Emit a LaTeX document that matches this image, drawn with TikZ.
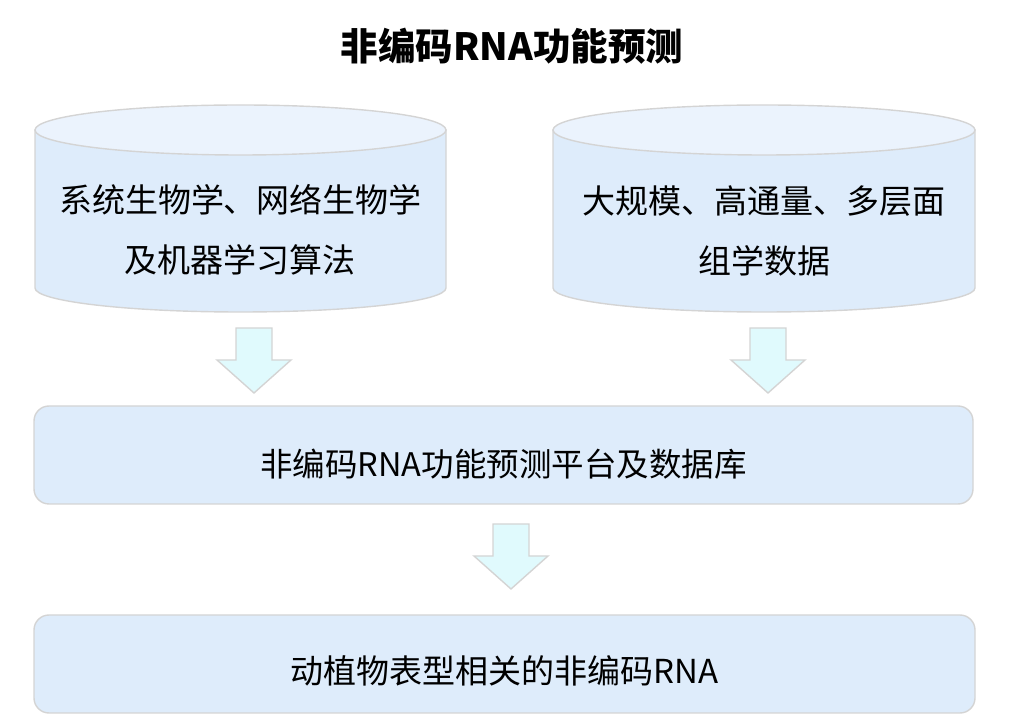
\documentclass[tikz,border=0pt]{standalone}
\usepackage{fontspec}
\setmainfont{Noto Sans CJK SC}
\usetikzlibrary{positioning}
\definecolor{bodyblue}{RGB}{222,236,251}
\definecolor{topblue}{RGB}{235,243,253}
\definecolor{edgegray}{RGB}{212,212,212}
\definecolor{arrowcyan}{RGB}{224,250,253}
\tikzset{
  basic/.style  = {align=center, text=black, inner sep=0pt},
  title/.style  = {basic, font=\fontsize{37.5}{40}\selectfont\bfseries},
  cyltext/.style = {basic, font=\fontsize{33}{60}\selectfont},
  panel/.style  = {draw=edgegray, line width=1.4pt, fill=bodyblue,
                   rounded corners=15pt, minimum width=939pt, minimum height=98pt},
  cylbody/.style = {draw=edgegray, line width=1.4pt, fill=bodyblue},
  cyltop/.style  = {draw=edgegray, line width=1.4pt, fill=topblue},
  bigarrow/.style = {draw=edgegray, line width=1.4pt, fill=arrowcyan, line join=miter}
}

\begin{document}
\begin{tikzpicture}[x=1pt, y=1pt]
\useasboundingbox (0,0) rectangle (1023,715);

% title
\node[title] (head) at (512,669) {非编码RNA功能预测};

% the two data stores
\foreach \cx/\rx in {240.5/205.5, 764/211} {
  \draw[cylbody] (\cx-\rx,585) -- (\cx-\rx,427)
    arc[start angle=180, end angle=360, x radius=\rx, y radius=24]
    -- (\cx+\rx,585) -- cycle;
  \draw[cyltop] (\cx,585) ellipse[x radius=\rx, y radius=25];
}
\node[cyltext] (algo) at (240.5,485) {系统生物学、网络生物学\\及机器学习算法};
\node[cyltext] (omics) at (764,484) {大规模、高通量、多层面\\组学数据};

% platform and result
\node[panel] (plat) at (503.5,260) {};
\node[basic, font=\fontsize{32.5}{34}\selectfont] (platname) at ([yshift=-9pt]plat.center) {非编码RNA功能预测平台及数据库};
\node[panel, minimum width=941pt] (res) at (504.5,51) {};
\node[basic, font=\fontsize{33}{36}\selectfont] (resname) at ([yshift=-7pt]res.center) {动植物表型相关的非编码RNA};

% block arrows between the levels
\foreach \ax/\ay in {254/387, 768/387, 511/191}
  \draw[bigarrow] (\ax-18,\ay) -- ++(36,0) -- ++(0,-32) -- ++(19,0)
    -- (\ax,\ay-65) -- (\ax-37,\ay-32) -- ++(19,0) -- cycle;

\end{tikzpicture}
\end{document}
